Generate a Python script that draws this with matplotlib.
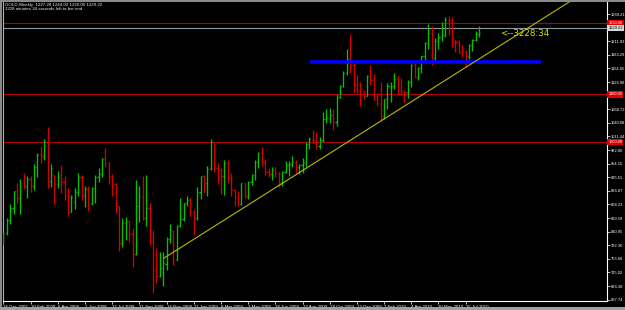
import matplotlib
matplotlib.use('Agg')
import matplotlib.pyplot as plt
from matplotlib.collections import LineCollection
from matplotlib.patches import Rectangle
import matplotlib.transforms as mtransforms
import numpy as np

# ---------------- data (weekly GOLD bars) ----------------
opens = [796, 808, 836, 861, 896, 882, 918, 908, 922, 906, 947, 975, 970, 1000, 918, 930, 912, 930, 916, 889,
         853, 873, 895, 925, 887, 900, 872, 903, 926, 932, 963, 956, 927, 912, 864, 786, 830, 833, 805, 763,
         864, 884, 840, 860, 790, 730, 718, 735, 742, 795, 812, 752, 822, 838, 872, 878, 853, 840, 894, 927,
         913, 942, 1000, 945, 940, 928, 955, 924, 898, 883, 870, 913, 885, 915, 930, 958, 977, 958, 936, 932,
         940, 934, 913, 937, 952, 954, 957, 946, 952, 955, 996, 1006, 1003, 991, 1003, 1049, 1051, 1056, 1041, 1095,
         1118, 1146, 1175, 1162, 1119, 1110, 1104, 1096, 1138, 1130, 1091, 1082, 1055, 1090, 1117, 1118, 1133, 1107, 1107, 1104,
         1126, 1161, 1136, 1156, 1180, 1208, 1229, 1177, 1212, 1220, 1226, 1257, 1256, 1212, 1210, 1192, 1189, 1181, 1204, 1215,
         1227.28]
highs = [810, 840, 869, 897, 913, 922, 935, 928, 927, 953, 976, 991, 1006, 1032, 953, 931, 939, 951, 927, 902,
         888, 902, 935, 930, 907, 907, 905, 930, 945, 967, 988, 958, 932, 913, 865, 839, 842, 836, 818, 920,
         907, 927, 930, 871, 814, 776, 769, 769, 800, 828, 815, 825, 882, 872, 885, 882, 857, 904, 928, 930,
         950, 1007, 1000, 955, 945, 962, 962, 934, 899, 897, 913, 914, 918, 932, 962, 978, 990, 963, 945, 947,
         946, 937, 939, 960, 960, 970, 961, 954, 965, 1000, 1011, 1025, 1020, 1011, 1062, 1070, 1072, 1070, 1101, 1120,
         1150, 1195, 1227, 1170, 1140, 1125, 1110, 1140, 1162, 1142, 1103, 1125, 1090, 1123, 1126, 1144, 1139, 1134, 1110, 1130,
         1163, 1171, 1158, 1180, 1210, 1249, 1243, 1218, 1230, 1252, 1262, 1265, 1262, 1215, 1215, 1204, 1194, 1206, 1216, 1233,
         1244.02]
lows = [783, 804, 828, 849, 871, 848, 900, 882, 894, 899, 925, 955, 962, 903, 905, 870, 902, 892, 878, 844,
        852, 858, 885, 877, 862, 855, 867, 872, 916, 925, 947, 912, 885, 850, 771, 779, 793, 790, 737, 762,
        832, 836, 823, 783, 681, 702, 716, 696, 730, 786, 741, 751, 820, 834, 865, 843, 803, 835, 880, 892,
        885, 940, 936, 911, 890, 888, 913, 885, 865, 865, 868, 882, 880, 909, 920, 944, 950, 930, 925, 920,
        926, 905, 906, 935, 928, 948, 935, 933, 935, 947, 985, 998, 985, 985, 1000, 1040, 1040, 1025, 1033, 1092,
        1115, 1140, 1145, 1106, 1103, 1076, 1091, 1096, 1120, 1088, 1075, 1044, 1048, 1069, 1084, 1112, 1100, 1099, 1084, 1092,
        1115, 1134, 1131, 1144, 1165, 1196, 1162, 1170, 1196, 1213, 1220, 1226, 1199, 1190, 1187, 1179, 1157, 1175, 1191, 1213,
        1220.00]
closes = [808, 836, 861, 896, 882, 907, 908, 922, 906, 947, 972, 970, 1000, 918, 944, 912, 925, 916, 889, 853,
          884, 895, 925, 886, 900, 872, 903, 926, 932, 963, 956, 927, 912, 864, 786, 830, 833, 805, 763, 864,
          885, 840, 860, 790, 730, 718, 735, 745, 795, 815, 752, 822, 838, 872, 878, 853, 840, 894, 927, 913,
          942, 1000, 942, 940, 928, 955, 924, 898, 883, 870, 913, 885, 915, 930, 958, 977, 958, 936, 932, 940,
          934, 913, 937, 952, 954, 957, 946, 952, 955, 996, 1006, 1003, 991, 1003, 1049, 1051, 1056, 1041, 1095, 1118,
          1146, 1175, 1162, 1119, 1110, 1104, 1096, 1138, 1130, 1091, 1082, 1051, 1090, 1117, 1118, 1133, 1102, 1104, 1104, 1126,
          1161, 1136, 1156, 1180, 1208, 1229, 1177, 1212, 1220, 1226, 1256, 1256, 1208, 1210, 1188, 1189, 1181, 1204, 1215, 1228,
          1229.22]

date_labels = ['16 Dec 2007', '10 Feb 2008', '6 Apr 2008', '1 Jun 2008', '27 Jul 2008', '21 Sep 2008',
               '16 Nov 2008', '11 Jan 2009', '8 Mar 2009', '3 May 2009', '28 Jun 2009', '23 Aug 2009',
               '18 Oct 2009', '13 Dec 2009', '7 Feb 2010', '4 Apr 2010', '30 May 2010', '25 Jul 2010']
weeks_per_label = 8

ytick_values = [1269.21, 1211.93, 1183.29, 1154.65, 1126.00, 1068.72, 1040.08, 1011.44, 982.80, 954.15,
                925.51, 896.87, 868.23, 839.59, 810.95, 782.30, 753.66, 725.02, 696.38, 667.74]

red_levels = [1250.00, 1100.00, 1000.00]
grey_level = 1239.2
grey_label = '1229.22'
blue_level = 1168.8
blue_span = (90.2, 158.1)
trend_start = (47.3, 755.3)
trend_slope = 4.527  # price per bar

title_line1 = 'GOLD,Weekly  1227.28 1244.02 1220.00 1229.22'
title_line2 = '3228 minutes 34 seconds left to bar end'
timer_text = '<--3228:34'
timer_pos = (146.1, 1229.2)

# ---------------- figure ----------------
W, H = 625, 310
fig = plt.figure(figsize=(W / 100, H / 100), dpi=100, facecolor='black')
ax = fig.add_axes([3 / W, 9 / H, 604 / W, 299 / H], facecolor='black')
ax.set_xlim(-0.09, 177.56)
ax.set_ylim(664.8, 1294.5)

GREEN = '#00c400'
RED = '#d40000'
FS = 2.9

n = len(opens)
x = np.arange(n)
segs, cols = [], []
for i in range(n):
    o, h, l, c = opens[i], highs[i], lows[i], closes[i]
    col = GREEN if c >= o else RED
    segs += [[(x[i], l), (x[i], h)], [(x[i] - 0.35, o), (x[i], o)], [(x[i], c), (x[i] + 0.35, c)]]
    cols += [col] * 3
ax.add_collection(LineCollection(segs, colors=cols, linewidths=0.95, zorder=3))

# horizontal levels
for lv in red_levels:
    ax.axhline(lv, color='#b00000', lw=0.8, zorder=2)
ax.axhline(grey_level, color='#8c98a4', lw=0.8, zorder=2)
ax.plot(blue_span, [blue_level, blue_level], color='#0000ff', lw=2.6, solid_capstyle='butt', zorder=4)

# trend line (ray)
tx = np.array([trend_start[0], 185.0])
ty = trend_start[1] + trend_slope * (tx - trend_start[0])
ax.plot(tx, ty, color='#b8b800', lw=0.8, zorder=5)

ax.text(timer_pos[0], timer_pos[1], timer_text, color='#e0e000', fontsize=6.2,
        ha='left', va='center', zorder=6, family='DejaVu Sans')

# axes styling
ax.spines['top'].set_visible(False)
ax.spines['left'].set_color('#b0b0b0')
ax.spines['left'].set_linewidth(0.8)
for s in ['right', 'bottom']:
    ax.spines[s].set_color('white')
    ax.spines[s].set_linewidth(0.8)

ax.yaxis.tick_right()
ax.set_yticks(ytick_values)
ax.set_yticklabels([f'{v:.2f}' for v in ytick_values], family='Liberation Sans')
ax.tick_params(axis='y', colors='white', length=2, width=0.5, labelsize=FS, pad=0.8)

xt = np.arange(0, len(date_labels) * weeks_per_label, weeks_per_label)
ax.set_xticks(xt)
ax.set_xticklabels(date_labels, ha='left', family='Liberation Sans')
ax.tick_params(axis='x', colors='white', length=2, width=0.5, labelsize=FS + 0.3, pad=0.8)

# price labels on the right axis
trans = mtransforms.blended_transform_factory(ax.transAxes, ax.transData)
for lv in red_levels:
    ax.text(1.002, lv, f'{lv:.2f}', transform=trans, fontsize=FS, color='white', ha='left', va='center',
            family='Liberation Sans', clip_on=False, zorder=10,
            bbox=dict(boxstyle='square,pad=0.3', fc='#e00000', ec='none'))
ax.text(1.002, grey_level, grey_label, transform=trans, fontsize=FS, color='black', ha='left', va='center',
        family='Liberation Sans', clip_on=False, zorder=10,
        bbox=dict(boxstyle='square,pad=0.3', fc='#d8d8d8', ec='none'))

# title texts
fig.text(5 / W, 1 - 5 / H, title_line1, color='#e8e8e8', fontsize=FS + 0.3, va='center', ha='left',
         family='Liberation Sans')
fig.text(5 / W, 1 - 9.5 / H, title_line2, color='#e8e8e8', fontsize=FS + 0.3, va='center', ha='left',
         family='Liberation Sans')

# window frame
fig.patches.append(Rectangle((0, 1 - 2 / H), 1, 2 / H, transform=fig.transFigure, fc='#8a8a8a', ec='none'))
fig.patches.append(Rectangle((0, 0), 2 / W, 1, transform=fig.transFigure, fc='#8a8a8a', ec='none'))
fig.patches.append(Rectangle((0, 0), 1, 3 / H, transform=fig.transFigure, fc='#a0a0a0', ec='none'))

fig.savefig('out.png', dpi=100, facecolor='black')
